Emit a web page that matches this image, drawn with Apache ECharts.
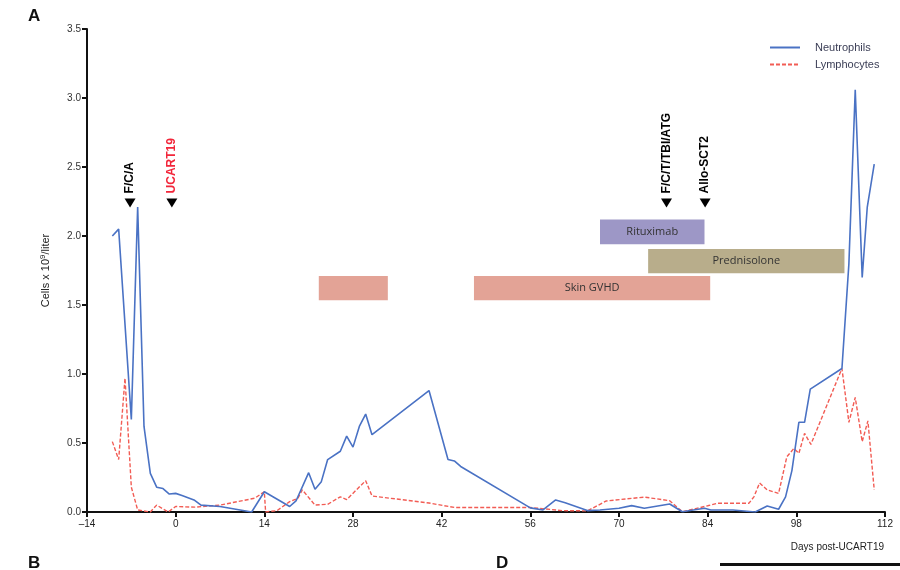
<!DOCTYPE html>
<html>
<head>
<meta charset="utf-8">
<script src="https://cdn.jsdelivr.net/npm/echarts@6/dist/echarts.min.js"></script>
<style>
html,body{margin:0;padding:0;background:#fff;}
#chart{width:900px;height:570px;}
</style>
</head>
<body>
<div id="chart"></div>
<script>
// ---- data ----
const xTicks = [-14, 0, 14, 28, 42, 56, 70, 84, 98, 112];
const yTicks = [0, 0.5, 1.0, 1.5, 2.0, 2.5, 3.0, 3.5];

const neutDays = [-10, -9, -7, -6, -5, -4, -3, -2, -1, 0, 1, 3, 4, 7, 12, 14, 18, 19, 21, 22, 23, 24, 26, 27, 28, 29, 30, 31, 40, 43, 44, 45, 56, 58, 60, 61.5, 65, 67, 70, 72, 74, 78, 80, 83.5, 84.5, 88, 91.5, 93.4, 95.2, 96.3, 97.3, 98.4, 99.3, 100.2, 105.2, 106.3, 107.3, 108.4, 109.2, 110.3];
const neutValues = [2.0, 2.05, 0.67, 2.21, 0.62, 0.28, 0.18, 0.17, 0.13, 0.135, 0.12, 0.085, 0.05, 0.04, 0.0, 0.147, 0.04, 0.08, 0.285, 0.165, 0.22, 0.38, 0.44, 0.55, 0.47, 0.62, 0.71, 0.56, 0.88, 0.38, 0.37, 0.33, 0.03, 0.015, 0.087, 0.067, 0.01, 0.015, 0.027, 0.046, 0.027, 0.058, 0.002, 0.027, 0.015, 0.015, 0.0, 0.043, 0.02, 0.11, 0.30, 0.65, 0.65, 0.89, 1.04, 1.8, 3.06, 1.70, 2.21, 2.52];

const lymphDays = [-10, -9, -8, -7, -6, -4, -3, -1.2, 0, 3, 7, 12.5, 14, 14.2, 16, 18, 19.3, 20, 22, 24, 26, 27, 30, 31, 40, 44, 56, 61, 65, 68, 74, 78, 80, 84, 85.5, 90.5, 91.3, 92.2, 93.4, 95.2, 96.5, 97.6, 98.4, 99.3, 100.3, 105.2, 106.3, 107.3, 108.4, 109.3, 110.3];
const lymphValues = [0.51, 0.38, 0.97, 0.18, 0.015, 0.0, 0.05, 0.0, 0.04, 0.035, 0.05, 0.1, 0.147, 0.0, 0.01, 0.075, 0.1, 0.16, 0.05, 0.056, 0.11, 0.09, 0.227, 0.116, 0.065, 0.033, 0.033, 0.01, 0.008, 0.08, 0.108, 0.082, 0.002, 0.045, 0.063, 0.063, 0.11, 0.21, 0.16, 0.135, 0.40, 0.46, 0.425, 0.57, 0.49, 1.04, 0.65, 0.83, 0.51, 0.66, 0.16];

const eventNames = ['F/C/A', 'UCART19', 'F/C/T/TBI/ATG', 'Allo-SCT2'];
const eventDays = [-7.2, -0.6, 77.5, 83.6];
const eventLevel = [2.24, 2.24, 2.24, 2.24];

const bandNames = ['', 'Skin GVHD', 'Rituximab', 'Prednisolone'];
const bandStart = [22.6, 47.1, 67.0, 74.6];
const bandEnd = [33.5, 84.4, 83.5, 105.6];
const bandLow = [1.535, 1.535, 1.94, 1.73];
const bandHigh = [1.71, 1.71, 2.12, 1.905];
// ---------------------------------------

const FONT = '"Liberation Sans Narrow", "Liberation Sans", Arial, sans-serif';
const bandColors = ['#e3a396', '#e3a396', '#9d97c6', '#b8ad8b'];
const eventColors = ['#000', '#f2263a', '#000', '#000'];

const chart = echarts.init(document.getElementById('chart'), null, {renderer: 'canvas'});

const neutData = neutDays.map((d, i) => [d, neutValues[i]]);
const lymphData = lymphDays.map((d, i) => [d, lymphValues[i]]);
const eventData = eventNames.map((n, i) => ({
  name: n, value: [eventDays[i], eventLevel[i]],
  label: {color: eventColors[i]}
}));
const bandData = bandNames.map((n, i) => [
  {name: n, xAxis: bandStart[i], yAxis: bandLow[i], itemStyle: {color: bandColors[i], opacity: 1}},
  {xAxis: bandEnd[i], yAxis: bandHigh[i]}
]);

function fmtX(v) { return v < 0 ? '\u2013' + Math.abs(v) : String(v); }

chart.setOption({
  animation: false,
  backgroundColor: '#fff',
  textStyle: {fontFamily: FONT},
  grid: {left: 87, right: 15, top: 29, bottom: 58, containLabel: false},
  legend: {
    orient: 'vertical',
    left: 764, top: 37,
    itemWidth: 30, itemHeight: 12, itemGap: 6,
    itemStyle: {opacity: 0},
    data: ['Neutrophils', 'Lymphocytes'],
    textStyle: {fontSize: 11, color: '#3a3d55', fontFamily: FONT, padding: [0, 0, 0, 10]}
  },
  xAxis: {
    type: 'value', min: -14, max: 112, interval: 14,
    axisLine: {show: true, onZero: false, lineStyle: {color: '#111', width: 2}},
    axisTick: {show: true, length: 5, lineStyle: {color: '#111', width: 2}},
    axisLabel: {fontSize: 10, color: '#222', margin: 7, fontFamily: FONT, formatter: fmtX},
    splitLine: {show: false}
  },
  yAxis: {
    type: 'value', min: 0, max: 3.5, interval: 0.5,
    name: '{a|Cells x 10}{s|9}{a|/liter}',
    nameLocation: 'middle', nameGap: 34, nameRotate: 90,
    nameTextStyle: {rich: {
      a: {fontSize: 11, color: '#222', fontFamily: FONT},
      s: {fontSize: 8, color: '#222', fontFamily: FONT, verticalAlign: 'bottom', padding: [0, 0, 6, 0]}
    }},
    axisLine: {show: true, onZero: false, lineStyle: {color: '#111', width: 2}},
    axisTick: {show: true, length: 5, lineStyle: {color: '#111', width: 2}},
    axisLabel: {fontSize: 10, color: '#333', margin: 6, fontFamily: FONT,
      formatter: v => v.toFixed(1)},
    splitLine: {show: false}
  },
  graphic: [
    {type: 'text', left: 28, top: 8, style: {text: 'A', font: 'bold 17px "Liberation Sans", Arial', fill: '#111'}},
    {type: 'text', left: 28, top: 555, style: {text: 'B', font: 'bold 17px "Liberation Sans", Arial', fill: '#111'}},
    {type: 'text', left: 496, top: 555, style: {text: 'D', font: 'bold 17px "Liberation Sans", Arial', fill: '#111'}},
    {type: 'rect', left: 720, top: 563, shape: {width: 180, height: 3}, style: {fill: '#111'}},
    {type: 'text', right: 16, top: 542, style: {text: 'Days post-UCART19', font: '10px ' + FONT, fill: '#222'}}
  ],
  series: [
    {
      name: 'bands', type: 'line', data: [], z: 1, silent: true,
      markArea: {
        silent: true,
        label: {show: true, position: 'inside', fontSize: 11, color: '#333', fontFamily: '"Open Sans", "Liberation Sans", sans-serif'},
        data: bandData
      }
    },
    {
      name: 'Lymphocytes', type: 'line', data: lymphData, showSymbol: false, symbol: 'none', z: 3,
      lineStyle: {color: '#f25c54', width: 1.4, type: [4, 2]},
      itemStyle: {color: '#f25c54'}
    },
    {
      name: 'Neutrophils', type: 'line', data: neutData, showSymbol: false, symbol: 'none', z: 4,
      lineStyle: {color: '#4a72c4', width: 1.6},
      itemStyle: {color: '#4a72c4'}
    },
    {
      name: 'events', type: 'scatter', data: eventData, z: 5,
      symbol: 'triangle', symbolRotate: 180, symbolSize: [11, 9],
      itemStyle: {color: '#000', opacity: 1},
      label: {show: true, position: 'top', rotate: 90, align: 'left', verticalAlign: 'middle',
        distance: 5, fontSize: 12, fontWeight: 'bold', fontFamily: '"Liberation Sans", Arial, sans-serif',
        formatter: p => p.name}
    }
  ]
});
</script>
</body>
</html>
